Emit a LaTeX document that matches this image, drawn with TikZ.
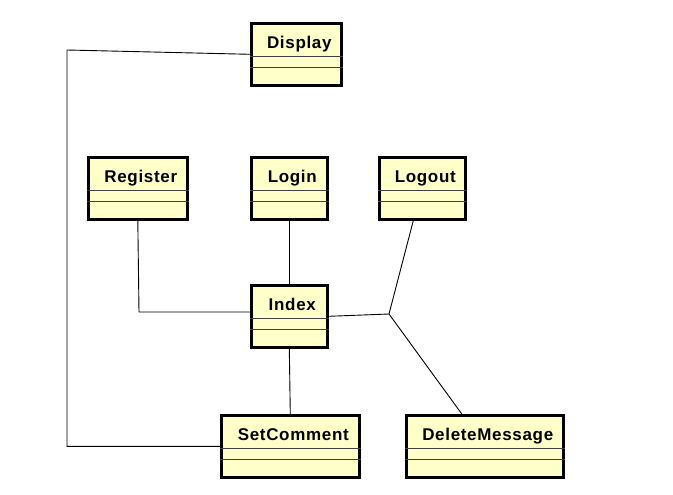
\documentclass[tikz,border=0pt]{standalone}
\usepackage{fontspec}
\newfontfamily\umlfont{Liberation Sans}[LetterSpace=4]
\definecolor{classfill}{RGB}{255,255,202}

\begin{document}
\begin{tikzpicture}[x=1pt,y=-1pt,
  classbox/.style={draw,line width=2.6pt,fill=classfill,minimum height=62pt,inner sep=0pt,anchor=north west},
  classname/.style={anchor=base,inner sep=0pt,font=\umlfont\bfseries\fontsize{17}{20}\selectfont},
  compline/.style={line width=0.8pt,black!75},
  link/.style={line width=0.9pt}]
\useasboundingbox (0,0) rectangle (673,495);
% classes: name/text/left/top/width
\foreach \n/\t/\x/\y/\w in {display/Display/250/22/90, register/Register/87/156/99,
    login/Login/250/156/76, logout/Logout/378/156/86, index/Index/250/284/76,
    setcomment/SetComment/220/414/138, delete/DeleteMessage/405/414/157}{
  \node[classbox,minimum width=\w] (\n) at (\x,\y) {};
  \node[classname] at ([xshift=3pt,yshift=-26.5pt]\n.north) {\t};
  \draw[compline] ([yshift=-34pt]\n.north west) -- ([yshift=-34pt]\n.north east);
  \draw[compline] ([yshift=-45.5pt]\n.north west) -- ([yshift=-45.5pt]\n.north east);
}
% connectors
\coordinate (leftbend) at (67,50);
\coordinate (regbend) at (139,312);
\coordinate (junc) at (389,314);
\draw[link] (display.west) -- (leftbend) -- (leftbend |- setcomment.west) -- (setcomment.west);
\draw[link] (register.south) -- (regbend) -- (regbend -| index.west);
\draw[link] (login.south) -- (index.north);
\draw[link] (index.south) -- (setcomment.north);
\draw[link] (index.east) -- (junc);
\draw[link] ([xshift=-9pt]logout.south) -- (junc);
\draw[link] (junc) -- ([xshift=-23pt]delete.north);
\end{tikzpicture}
\end{document}
